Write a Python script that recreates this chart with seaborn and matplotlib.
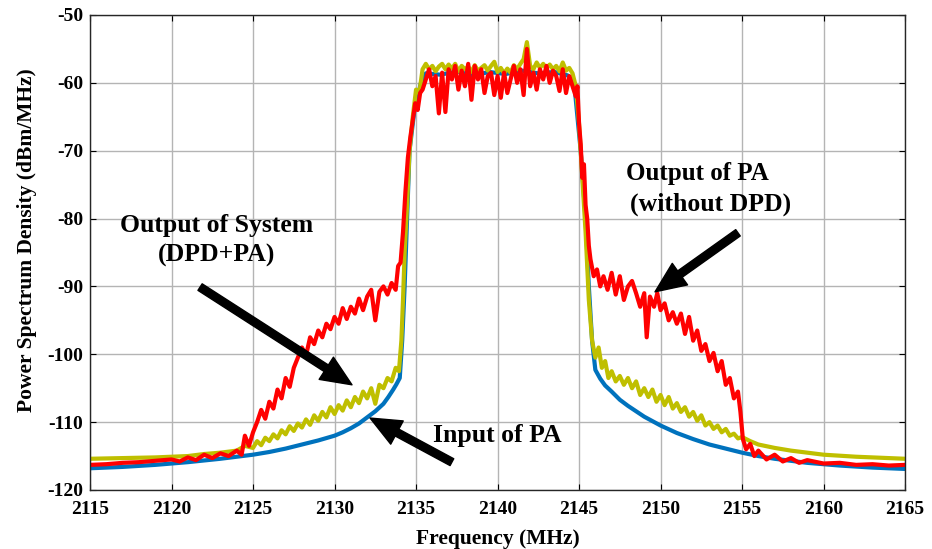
import matplotlib
matplotlib.use("Agg")
import matplotlib.pyplot as plt
import seaborn as sns
import pandas as pd

# ---------------- data ----------------
freq_in = [2115, 2117, 2119, 2121, 2123, 2125, 2126, 2127, 2128, 2129, 2130, 2130.5, 2131,
           2131.5, 2132, 2132.5, 2133, 2133.3, 2133.6, 2133.8, 2134.0, 2134.15, 2134.3,
           2134.45, 2134.6, 2134.9, 2135.3, 2135.6, 2136.5, 2137.5, 2138.5, 2139.5, 2140.5,
           2141.5, 2142.5, 2143.5, 2144.3, 2144.7, 2145.1, 2145.4, 2145.6, 2145.8, 2146.0,
           2146.3, 2146.6, 2147, 2147.5, 2148, 2148.5, 2149, 2150, 2151, 2152, 2153, 2154,
           2155, 2156, 2157, 2159, 2161, 2163, 2165]
psd_in = [-116.8, -116.6, -116.3, -115.9, -115.4, -114.8, -114.4, -113.9, -113.3, -112.7,
          -112.0, -111.5, -110.9, -110.2, -109.3, -108.4, -107.3, -106.3, -105.2, -104.4,
          -103.5, -98, -90, -80, -70, -64, -60, -58.6, -58.8, -58.3, -58.9, -58.4, -58.7,
          -58.2, -58.6, -58.4, -58.9, -60, -70, -80, -90, -98, -102.3, -103.6, -104.6,
          -105.5, -106.7, -107.6, -108.4, -109.2, -110.5, -111.6, -112.5, -113.3, -113.9,
          -114.5, -115.0, -115.4, -116.0, -116.4, -116.7, -116.9]

freq_sys = [2115, 2117, 2119, 2121, 2122, 2123, 2124, 2124.5, 2125, 2125.25, 2125.5, 2125.75,
            2126, 2126.25, 2126.5, 2126.75, 2127, 2127.25, 2127.5, 2127.75, 2128, 2128.25,
            2128.5, 2128.75, 2129, 2129.25, 2129.5, 2129.75, 2130, 2130.25, 2130.5, 2130.75,
            2131, 2131.25, 2131.5, 2131.75, 2132, 2132.25, 2132.5, 2132.75, 2133, 2133.25,
            2133.5, 2133.75, 2133.95, 2134.1, 2134.2, 2134.3, 2134.45, 2134.6, 2134.8, 2135.0,
            2135.2, 2135.4,
            2135.6, 2135.8, 2136.0, 2136.2, 2136.4, 2136.6, 2136.8, 2137.0, 2137.2, 2137.4,
            2137.6, 2137.8, 2138.0, 2138.2, 2138.4, 2138.6, 2138.8, 2139.0, 2139.2, 2139.4,
            2139.6, 2139.8, 2140.0, 2140.2, 2140.4, 2140.6, 2140.8, 2141.0, 2141.2, 2141.4,
            2141.6, 2141.8, 2142.0, 2142.2, 2142.4, 2142.6, 2142.8, 2143.0, 2143.2, 2143.4,
            2143.6, 2143.8, 2144.0, 2144.2, 2144.4, 2144.6, 2144.8,
            2145.0, 2145.2, 2145.4, 2145.6, 2145.8,
            2146.0, 2146.2, 2146.4, 2146.6, 2146.8, 2147.0, 2147.25, 2147.5, 2147.75, 2148.0,
            2148.25, 2148.5, 2148.75, 2149.0, 2149.25, 2149.5, 2149.75, 2150.0, 2150.25,
            2150.5, 2150.75, 2151.0, 2151.25, 2151.5, 2151.75, 2152.0, 2152.25, 2152.5,
            2152.75, 2153.0, 2153.25, 2153.5, 2153.75, 2154.0, 2154.25, 2154.5, 2154.75,
            2155.0, 2155.5, 2156, 2157, 2158, 2159, 2160, 2162, 2165]
psd_sys = [-115.4, -115.3, -115.2, -115.0, -114.7, -114.5, -114.2, -113.5, -113.8, -112.8,
           -113.4, -112.3, -112.8, -111.8, -112.4, -111.2, -111.8, -110.6, -111.3, -110.2,
           -110.8, -109.6, -110.4, -109.0, -109.8, -108.5, -109.3, -107.8, -108.8, -107.5,
           -108.3, -106.8, -107.8, -106.3, -107.2, -105.5, -106.5, -105.0, -107.3, -104.5,
           -105.0, -103.5, -104.0, -102.0, -102.5, -98, -92, -85, -78, -70, -65, -61,
           -61.5, -58,
           -57.2, -58.0, -57.5, -58.3, -57.6, -57.2, -58.0, -57.3, -57.9, -57.2,
           -58.3, -57.5, -58.0, -57.6, -58.4, -57.4, -58.2, -57.8, -57.4, -58.2,
           -57.5, -56.9, -58.4, -57.8, -58.6, -57.9, -58.5, -57.4, -58.0, -57.2,
           -56.5, -54.0, -57.5, -58.0, -57.0, -57.8, -57.2, -57.9, -57.3, -58.0,
           -57.5, -58.3, -57.0, -58.2, -57.8, -58.6, -60.5,
           -66, -74, -82, -92, -98,
           -100.5, -99.0, -102.0, -101.0, -103.5, -102.5, -104.0, -103.2, -104.5, -103.5,
           -105.0, -104.0, -106.0, -105.0, -106.3, -105.2, -107.0, -106.0, -107.5,
           -106.3, -108.0, -107.2, -108.5, -107.8, -109.2, -108.5, -109.8, -109.0,
           -110.5, -110.0, -111.0, -110.5, -111.5, -111.0, -112.0, -111.7, -112.4,
           -112.2, -112.8, -113.3, -113.8, -114.2, -114.5, -114.8, -115.1, -115.4]

freq_pa = [2115, 2116, 2117, 2118, 2119, 2120, 2120.5, 2121, 2121.5, 2122, 2122.5, 2123,
           2123.5, 2124, 2124.3, 2124.5, 2124.75, 2125.0, 2125.25, 2125.5, 2125.75, 2126.0,
           2126.25, 2126.5, 2126.75, 2127.0, 2127.25, 2127.5, 2127.75, 2128.0, 2128.25,
           2128.5, 2128.75, 2129.0, 2129.25, 2129.5, 2129.75, 2130.0, 2130.25, 2130.5,
           2130.75, 2131.0, 2131.25, 2131.5, 2131.75, 2132.0, 2132.25, 2132.5, 2132.75,
           2133.0, 2133.25, 2133.5, 2133.75, 2133.9, 2134.05,
           2134.2, 2134.35, 2134.5, 2134.65, 2134.8, 2134.95, 2135.1, 2135.25,
           2135.4, 2135.6, 2135.8, 2136.0, 2136.2, 2136.4, 2136.6, 2136.8, 2137.0, 2137.2,
           2137.4, 2137.6, 2137.8, 2138.0, 2138.2, 2138.4, 2138.6, 2138.8, 2139.0, 2139.2,
           2139.4, 2139.6, 2139.8, 2140.0, 2140.2, 2140.4, 2140.6, 2140.8, 2141.0, 2141.2,
           2141.4, 2141.6, 2141.8, 2142.0, 2142.2, 2142.4, 2142.6, 2142.8, 2143.0, 2143.2,
           2143.4, 2143.6, 2143.8, 2144.0, 2144.2, 2144.4, 2144.6, 2144.8,
           2144.9, 2145.0, 2145.1, 2145.2, 2145.3, 2145.4, 2145.5, 2145.6,
           2145.7, 2145.9, 2146.1, 2146.3, 2146.5, 2146.75, 2147.0, 2147.25, 2147.5,
           2147.75, 2148.0, 2148.25, 2148.5, 2148.75, 2149.0, 2149.15, 2149.35, 2149.6,
           2149.8, 2150.0, 2150.25, 2150.5, 2150.75, 2151.0, 2151.25, 2151.5, 2151.75,
           2152.0, 2152.25, 2152.5, 2152.75, 2153.0, 2153.25, 2153.5, 2153.75, 2154.0,
           2154.25, 2154.5, 2154.75, 2154.9, 2155.05, 2155.25, 2155.5, 2155.75, 2156.0,
           2156.5, 2157, 2157.5, 2158, 2158.5, 2159, 2160, 2161, 2162, 2163, 2164, 2165]
psd_pa = [-116.3, -116.2, -116.0, -115.9, -115.7, -115.5, -115.8, -115.2, -115.6, -114.8,
          -115.3, -114.6, -115.0, -114.2, -114.8, -112.0, -113.5, -111.5, -110.0, -108.2,
          -109.5, -107.0, -108.0, -105.2, -106.5, -103.5, -104.8, -102.0, -100.5, -99.0,
          -100.2, -97.5, -98.5, -96.5, -97.5, -95.5, -96.3, -94.5, -95.5, -93.2,
          -94.8, -93.0, -94.0, -91.8, -93.5, -91.5, -90.5, -95.0, -90.8,
          -90.0, -91.2, -89.5, -90.5, -87.0, -86.5,
          -82, -76, -71, -68, -65.5, -63, -64, -61.5,
          -61.0, -59.5, -58.0, -60.5, -59.0, -64.5, -58.5, -64.3, -58.0, -59.5,
          -57.5, -61.0, -58.2, -60.5, -57.2, -62.5, -57.5, -59.5, -58.0, -61.5,
          -59.0, -58.5, -61.8, -59.0, -62.2, -58.5, -61.5, -59.5, -57.5, -60.0,
          -58.0, -61.8, -55.0, -60.5, -58.5, -61.0, -58.0, -59.5, -57.5, -60.0,
          -58.2, -59.0, -61.2, -58.0, -61.5, -59.0, -60.5, -62.0,
          -60.5, -66, -69, -74, -72, -78, -80, -84,
          -86.0, -88.5, -87.5, -90.0, -88.5, -90.5, -88.0, -91.2, -88.5,
          -92.0, -90.0, -89.2, -91.0, -93.0, -91.0, -97.5, -91.5, -93.0,
          -91.0, -93.5, -92.5, -95.0, -93.8, -95.5, -94.0, -97.0, -94.5,
          -98.0, -96.5, -99.5, -98.5, -101.0, -99.8, -102.5, -101.0, -104.5,
          -103.5, -106.5, -105.5, -108.5, -112.5, -114.0, -113.2, -115.0, -114.2,
          -115.5, -114.8, -115.8, -115.3, -116.0, -115.6, -116.1, -116.0, -116.3, -116.2,
          -116.4, -116.3]

x_ticks = [2115, 2120, 2125, 2130, 2135, 2140, 2145, 2150, 2155, 2160, 2165]
y_ticks = [-120, -110, -100, -90, -80, -70, -60, -50]

# ---------------- styling ----------------
sns.set_theme(style="ticks")
plt.rcParams["font.family"] = ["Liberation Serif", "DejaVu Serif"]
plt.rcParams["font.weight"] = "bold"
plt.rcParams["text.color"] = "black"
plt.rcParams["axes.labelcolor"] = "black"
plt.rcParams["xtick.color"] = "black"
plt.rcParams["ytick.color"] = "black"

fig = plt.figure(figsize=(9.32, 5.49), dpi=100)
ax = fig.add_axes([0.0966, 0.1075, 0.8745, 0.8652])

df_in = pd.DataFrame({"f": freq_in, "p": psd_in})
df_sys = pd.DataFrame({"f": freq_sys, "p": psd_sys})
df_pa = pd.DataFrame({"f": freq_pa, "p": psd_pa})

lw = 3.0
sns.lineplot(data=df_in, x="f", y="p", color="#0072BD", lw=lw, ax=ax, estimator=None)
sns.lineplot(data=df_sys, x="f", y="p", color="#BFBF00", lw=lw, ax=ax, estimator=None)
sns.lineplot(data=df_pa, x="f", y="p", color="#FF0000", lw=lw, ax=ax, estimator=None)

ax.set_xlim(2115, 2165)
ax.set_ylim(-120, -50)
ax.set_xticks(x_ticks)
ax.set_yticks(y_ticks)
ax.set_xticklabels([str(t) for t in x_ticks], fontsize=14, fontweight="bold")
ax.set_yticklabels([str(t) for t in y_ticks], fontsize=14, fontweight="bold")
ax.tick_params(direction="in", length=4, width=0.8, colors="black", top=True, right=True)
ax.tick_params(axis="x", pad=8)
ax.tick_params(axis="y", pad=5)
ax.grid(True, color="#b4b4b4", lw=1.0)
ax.set_axisbelow(True)
for s in ax.spines.values():
    s.set_color("#262626")
    s.set_linewidth(1.0)

ax.set_xlabel("Frequency (MHz)", fontsize=15.5, fontweight="bold", labelpad=8, color="black")
ax.set_ylabel("Power Spectrum Density (dBm/MHz)", fontsize=15.5, fontweight="bold",
              color="black")
ax.yaxis.set_label_coords(-0.065, 0.525)

# ---------------- annotations ----------------
tfs = 18.5
ax.text(2152.24, -73.4, "Output of PA", ha="center", va="center", fontsize=18, fontweight="bold")
ax.text(2153.04, -77.85, "(without DPD)", ha="center", va="center", fontsize=tfs, fontweight="bold")
ax.text(2122.79, -80.95, "Output of System", ha="center", va="center", fontsize=tfs, fontweight="bold")
ax.text(2122.79, -85.5, "(DPD+PA)", ha="center", va="center", fontsize=tfs, fontweight="bold")
ax.text(2139.97, -111.9, "Input of PA", ha="center", va="center", fontsize=tfs, fontweight="bold")

astyle = dict(arrowstyle="simple,head_length=1.1,head_width=0.95,tail_width=0.28",
              mutation_scale=20, color="black", shrinkA=0, shrinkB=0)
ax.annotate("", xy=(2149.66, -90.8), xytext=(2154.75, -82.1), arrowprops=astyle)
ax.annotate("", xy=(2131.07, -104.5), xytext=(2121.75, -90.1), arrowprops=astyle)
ax.annotate("", xy=(2132.18, -109.4), xytext=(2137.2, -115.9), arrowprops=astyle)

fig.savefig("out.png", dpi=100)
